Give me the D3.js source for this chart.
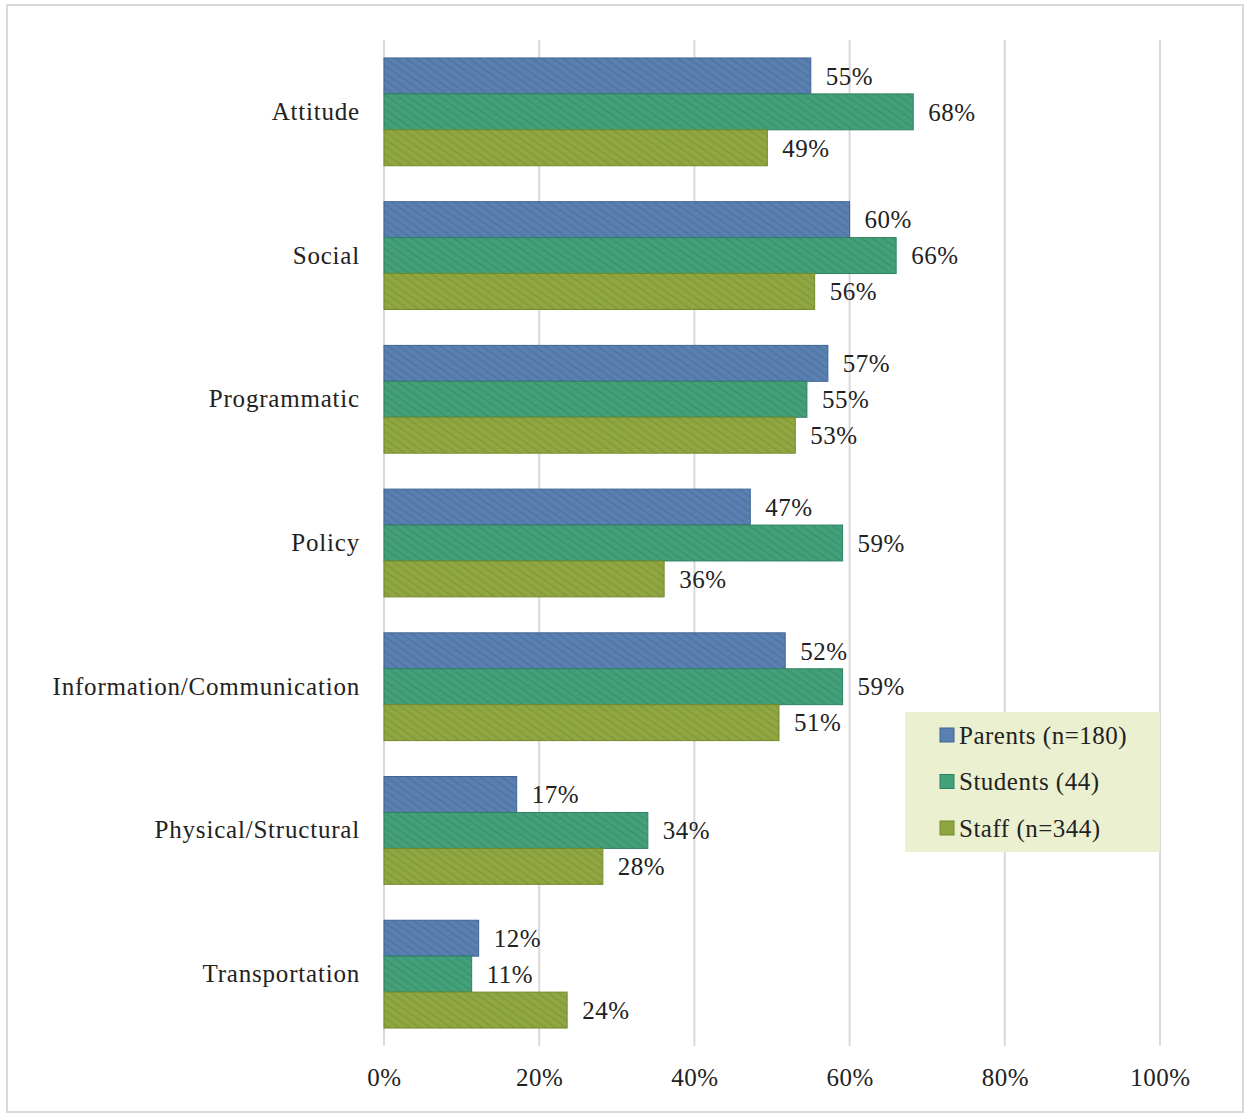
<!DOCTYPE html>
<html><head><meta charset="utf-8">
<script src="https://cdn.jsdelivr.net/npm/d3@7"></script>
<style>body{margin:0;background:#fff;} svg{display:block;font-family:"Liberation Serif","DejaVu Serif",serif;}</style>
</head><body>
<svg id="c" width="1244" height="1115"></svg>
<script>
const categories = ["Attitude","Social","Programmatic","Policy","Information/Communication","Physical/Structural","Transportation"];
const seriesNames = ["Parents (n=180)","Students (44)","Staff (n=344)"];
const parents  = [55.0, 60.0, 57.2, 47.2, 51.7, 17.1, 12.2];
const students = [68.2, 66.0, 54.5, 59.1, 59.1, 34.0, 11.3];
const staff    = [49.4, 55.5, 53.0, 36.1, 50.9, 28.2, 23.6];
const xTicks = [0,20,40,60,80,100];
const colors = ["#5a80b2","#44a07b","#90a741"];
const strokes = ["#3f6494","#2f8260","#728a2c"];
const hatch = ["#4f74a4","#3b926f","#84993a"];
const FS = 25;

const svg = d3.select("#c");
const series = [parents, students, staff];
const defs = svg.append("defs");
colors.forEach((c,i)=>{
  const p = defs.append("pattern").attr("id","pat"+i).attr("patternUnits","userSpaceOnUse")
    .attr("width",6).attr("height",6).attr("patternTransform","rotate(35)");
  p.append("rect").attr("width",6).attr("height",6).attr("fill",c);
  p.append("rect").attr("width",6).attr("height",2).attr("fill",hatch[i]).attr("opacity",0.8);
});

// outer border
svg.append("rect").attr("x",7).attr("y",5).attr("width",1236).attr("height",1107)
  .attr("fill","none").attr("stroke","#d9d9d9").attr("stroke-width",2);

const x = d3.scaleLinear().domain([0,100]).range([384,1160]);
const y = d3.scaleBand().domain(categories).range([40,1046]).paddingInner(0.25).paddingOuter(0.125);
const yi = d3.scaleBand().domain([0,1,2]).range([0,y.bandwidth()]);

// grid
svg.append("g").selectAll("line").data(xTicks).join("line")
  .attr("x1",d=>x(d)).attr("x2",d=>x(d)).attr("y1",40).attr("y2",1046)
  .attr("stroke","#d9d9d9").attr("stroke-width",2);

// x tick labels
const xa = svg.append("g").attr("transform","translate(0,1046)")
  .call(d3.axisBottom(x).tickValues(xTicks).tickFormat(d=>d+"%").tickSize(0).tickPadding(22));
xa.select(".domain").remove();
xa.selectAll("text").attr("font-size",FS).attr("fill","#222").attr("letter-spacing","0.5px").attr("font-family","Liberation Serif, serif");

// y labels
const ya = svg.append("g").attr("transform","translate(384,0)")
  .call(d3.axisLeft(y).tickSize(0).tickPadding(24));
ya.select(".domain").remove();
ya.selectAll("text").attr("font-size",FS).attr("fill","#222").attr("letter-spacing","0.8px").attr("font-family","Liberation Serif, serif");

// bars
series.forEach((vals,si)=>{
  const g = svg.append("g");
  g.selectAll("rect").data(vals).join("rect")
    .attr("x",x(0)).attr("y",(d,i)=>y(categories[i])+yi(si))
    .attr("width",d=>x(d)-x(0)).attr("height",yi.bandwidth())
    .attr("fill","url(#pat"+si+")").attr("stroke",strokes[si]).attr("stroke-width",1);
  g.selectAll("text").data(vals).join("text")
    .attr("x",d=>x(d)+15).attr("y",(d,i)=>y(categories[i])+yi(si)+yi.bandwidth()/2)
    .attr("dy","0.35em").attr("font-size",FS).attr("fill","#222").attr("letter-spacing","0.5px")
    .text(d=>Math.round(d)+"%");
});

// legend
const lg = svg.append("g");
lg.append("rect").attr("x",905).attr("y",712).attr("width",255).attr("height",140).attr("fill","#ebf0d1");
seriesNames.forEach((n,i)=>{
  const cy = 735 + i*46.5;
  lg.append("rect").attr("x",940).attr("y",cy-7).attr("width",14).attr("height",14)
    .attr("fill",colors[i]).attr("stroke",strokes[i]).attr("stroke-width",1);
  lg.append("text").attr("x",959).attr("y",cy).attr("dy","0.35em").attr("font-size",FS).attr("fill","#222").attr("letter-spacing","0.5px").text(n);
});
</script>
</body></html>
